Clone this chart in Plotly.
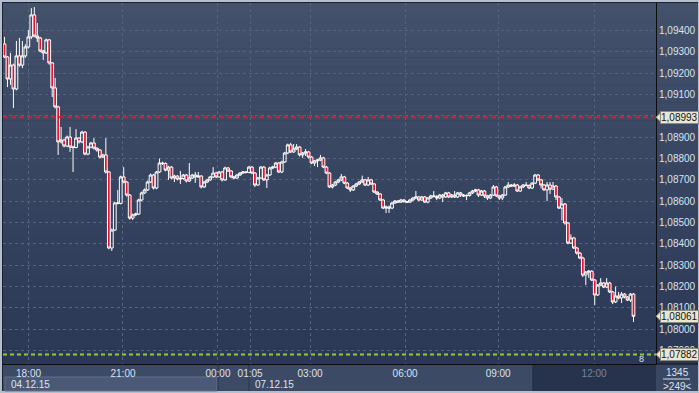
import plotly.graph_objects as go

# ---------------- data (prices in points: price = 1 + pts/100000) ----------------
first_open_pts = 9337
close_pts = [
    9276, 9173, 9238, 9126, 9281, 9238, 9281, 9323, 9370, 9473,
    9374, 9365, 9304, 9295, 9356, 9248, 9131, 9042, 8878, 8887,
    8859, 8901, 8854, 8852, 8896, 8878, 8924, 8821, 8854, 8873,
    8849, 8840, 8807, 8817, 8737, 8381, 8465, 8592, 8590, 8714,
    8690, 8629, 8521, 8536, 8540, 8606, 8639, 8653, 8690, 8723,
    8662, 8737, 8779, 8777, 8746, 8760, 8709, 8718, 8704, 8707,
    8723, 8695, 8709, 8723, 8714, 8718, 8667, 8690, 8700, 8714,
    8732, 8714, 8737, 8700, 8756, 8742, 8714, 8709, 8723, 8732,
    8737, 8735, 8760, 8732, 8676, 8709, 8760, 8700, 8723, 8756,
    8760, 8779, 8737, 8784, 8826, 8864, 8831, 8845, 8854, 8817,
    8826, 8831, 8807, 8779, 8789, 8793, 8803, 8760, 8732, 8667,
    8676, 8690, 8700, 8714, 8685, 8662, 8653, 8671, 8681, 8690,
    8700, 8676, 8700, 8681, 8643, 8634, 8606, 8568, 8573, 8568,
    8592, 8601, 8596, 8606, 8598, 8596, 8606, 8615, 8620, 8606,
    8620, 8596, 8615, 8625, 8623, 8615, 8629, 8620, 8639, 8620,
    8629, 8620, 8639, 8629, 8625, 8627, 8639, 8648, 8653, 8629,
    8648, 8625, 8615, 8629, 8667, 8625, 8615, 8629, 8667, 8676,
    8671, 8676, 8648, 8667, 8676, 8674, 8662, 8685, 8723, 8700,
    8676, 8653, 8676, 8657, 8671, 8620, 8568, 8587, 8498, 8404,
    8428, 8381, 8357, 8334, 8254, 8268, 8272, 8231, 8161, 8207,
    8217, 8198, 8217, 8175, 8128, 8156, 8147, 8165, 8151, 8137, 8165, 8061,
]
high_pts = [
    9370, 9280, 9295, 9245, 9351, 9365, 9351, 9335, 9402, 9505,
    9510, 9435, 9370, 9310, 9362, 9360, 9252, 9178, 9048, 8948,
    8893, 8908, 8948, 8860, 8938, 8900, 8930, 8928, 8860, 8878,
    8896, 8852, 8845, 8822, 8896, 8742, 8472, 8598, 8653, 8720,
    8760, 8695, 8634, 8542, 8546, 8612, 8645, 8660, 8697, 8730,
    8728, 8742, 8800, 8785, 8782, 8766, 8765, 8724, 8722, 8742,
    8728, 8728, 8779, 8728, 8737, 8737, 8722, 8695, 8705, 8719,
    8760, 8738, 8742, 8742, 8762, 8760, 8746, 8719, 8728, 8737,
    8742, 8741, 8766, 8765, 8737, 8714, 8765, 8765, 8728, 8762,
    8766, 8784, 8784, 8790, 8831, 8870, 8873, 8868, 8868, 8859,
    8831, 8845, 8836, 8812, 8794, 8798, 8817, 8808, 8765, 8737,
    8681, 8695, 8705, 8728, 8719, 8690, 8667, 8676, 8686, 8695,
    8720, 8705, 8714, 8705, 8686, 8648, 8639, 8611, 8580, 8580,
    8598, 8606, 8606, 8611, 8610, 8602, 8611, 8620, 8648, 8625,
    8625, 8625, 8620, 8630, 8648, 8628, 8634, 8634, 8644, 8644,
    8634, 8648, 8644, 8644, 8634, 8632, 8644, 8653, 8658, 8658,
    8653, 8653, 8630, 8634, 8676, 8672, 8630, 8634, 8672, 8690,
    8681, 8685, 8681, 8672, 8681, 8690, 8679, 8690, 8728, 8728,
    8705, 8681, 8690, 8690, 8690, 8676, 8625, 8615, 8592, 8503,
    8445, 8433, 8386, 8362, 8340, 8273, 8278, 8277, 8236, 8212,
    8240, 8222, 8240, 8222, 8180, 8200, 8175, 8175, 8170, 8156, 8170, 8170,
]
low_pts = [
    9271, 9135, 9145, 9037, 9120, 9230, 9224, 9272, 9315, 9360,
    9368, 9346, 9298, 9262, 9290, 9240, 9088, 9035, 8817, 8870,
    8852, 8853, 8831, 8737, 8848, 8870, 8872, 8815, 8815, 8848,
    8842, 8832, 8800, 8802, 8730, 8375, 8367, 8460, 8585, 8585,
    8684, 8622, 8514, 8512, 8530, 8535, 8600, 8634, 8648, 8685,
    8655, 8656, 8732, 8770, 8740, 8700, 8703, 8690, 8698, 8681,
    8700, 8688, 8690, 8704, 8686, 8710, 8660, 8662, 8685, 8695,
    8708, 8708, 8709, 8693, 8695, 8737, 8708, 8703, 8704, 8718,
    8728, 8730, 8731, 8727, 8667, 8672, 8704, 8695, 8662, 8718,
    8750, 8755, 8732, 8732, 8779, 8821, 8826, 8826, 8840, 8810,
    8803, 8812, 8800, 8774, 8765, 8760, 8788, 8755, 8727, 8662,
    8660, 8671, 8685, 8695, 8680, 8657, 8643, 8648, 8667, 8676,
    8685, 8671, 8671, 8676, 8638, 8629, 8601, 8563, 8545, 8545,
    8563, 8587, 8592, 8592, 8594, 8592, 8592, 8600, 8610, 8600,
    8601, 8592, 8590, 8610, 8618, 8606, 8610, 8596, 8615, 8615,
    8615, 8615, 8615, 8620, 8620, 8606, 8622, 8634, 8643, 8620,
    8625, 8615, 8606, 8610, 8625, 8620, 8606, 8606, 8625, 8662,
    8667, 8667, 8643, 8643, 8662, 8670, 8657, 8657, 8680, 8695,
    8660, 8648, 8601, 8634, 8652, 8606, 8563, 8510, 8490, 8398,
    8400, 8376, 8350, 8328, 8245, 8207, 8240, 8226, 8114, 8156,
    8202, 8193, 8193, 8170, 8118, 8123, 8140, 8123, 8145, 8132, 8128, 8034,
]
assert len(close_pts) == len(high_pts) == len(low_pts)

time_tick_pos = [8.05, 39.75, 71.6, 82.4, 102.5, 134.4, 165.6, 197.8]
time_tick_text = ["18:00", "21:00", "00:00", "01:05", "03:00", "06:00", "09:00", "12:00"]
price_ticks = [1.079, 1.080, 1.081, 1.082, 1.083, 1.084, 1.085, 1.086,
               1.087, 1.088, 1.089, 1.090, 1.091, 1.092, 1.093, 1.094]
date_labels = ["04.12.15", "07.12.15"]
bid_level = 1.08993
last_level = 1.08061
green_level = 1.07882
corner_top, corner_bottom = "1345", ">249<"
green_count = "8"

# ---------------- derived series ----------------
to_price = lambda p: 1 + p / 100000.0
opens = [to_price(v) for v in [first_open_pts] + close_pts[:-1]]
closes = [to_price(v) for v in close_pts]
highs = [to_price(v) for v in high_pts]
lows = [to_price(v) for v in low_pts]
xs = list(range(len(closes)))

# ---------------- geometry helpers ----------------
W, H = 699, 393
L, R, T, B = 3, 43, 3, 29
PW, PH = W - L - R, H - T - B
fx = lambda px: (px - L) / PW
fy = lambda py: (H - B - py) / PH
YMIN, YMAX = 1.078374, 1.095289
ppx = (YMAX - YMIN) / PH  # price per pixel

FONT = "Liberation Sans"
LIGHT = "#dbe3ee"

fig = go.Figure()
fig.add_trace(go.Candlestick(
    x=xs, open=opens, high=highs, low=lows, close=closes,
    increasing=dict(line=dict(color="#ffffff", width=1), fillcolor="rgba(0,0,0,0)"),
    decreasing=dict(line=dict(color="#ffffff", width=1), fillcolor="#e8102c"),
    whiskerwidth=0, hoverinfo="skip", showlegend=False,
))

shapes = []
shapes.append(dict(type="rect", xref="paper", yref="paper", x0=fx(2), x1=fx(698), y0=fy(391), y1=fy(2),
                   fillcolor="#1b2232", line=dict(width=0), layer="below"))
n = 40
top_c, bot_c = (67, 81, 107), (42, 56, 86)
for k in range(n):
    t = (k + 0.5) / n
    c = tuple(round(top_c[i] + (bot_c[i] - top_c[i]) * t) for i in range(3))
    py0 = 3 + k * (364 - 3) / n
    py1 = 3 + (k + 1) * (364 - 3) / n
    shapes.append(dict(type="rect", xref="paper", yref="paper", x0=fx(3), x1=fx(698),
                       y0=fy(py1 + 0.5), y1=fy(py0), fillcolor="rgb(%d,%d,%d)" % c,
                       line=dict(width=0), layer="below"))
shapes += [
    dict(type="rect", xref="paper", yref="paper", x0=fx(3), x1=fx(533), y0=fy(391), y1=fy(364),
         fillcolor="#3c4a66", line=dict(width=0), layer="below"),
    dict(type="rect", xref="paper", yref="paper", x0=fx(533), x1=fx(656), y0=fy(391), y1=fy(364),
         fillcolor="#27334c", line=dict(width=0), layer="below"),
    dict(type="rect", xref="paper", yref="paper", x0=fx(656), x1=fx(698), y0=fy(391), y1=fy(364),
         fillcolor="#3a4763", line=dict(width=0), layer="below"),
    dict(type="rect", xref="paper", yref="paper", x0=fx(5), x1=fx(217), y0=fy(391), y1=fy(377),
         fillcolor="#4b5976", line=dict(color="#63708b", width=1), layer="below"),
    dict(type="line", xref="paper", yref="paper", x0=fx(218), x1=fx(218), y0=fy(391), y1=fy(364),
         line=dict(color="#2a3550", width=1), layer="below"),
    dict(type="line", xref="paper", yref="paper", x0=fx(249), x1=fx(249), y0=fy(391), y1=fy(364),
         line=dict(color="#2a3550", width=1), layer="below"),
    dict(type="line", xref="paper", yref="paper", x0=fx(533), x1=fx(533), y0=fy(391), y1=fy(364),
         line=dict(color="#1f2940", width=1), layer="below"),
    dict(type="line", xref="paper", yref="paper", x0=fx(656), x1=fx(698), y0=fy(364), y1=fy(364),
         line=dict(color="#111111", width=1), layer="above"),
    dict(type="line", xref="paper", yref="paper", x0=fx(663), x1=fx(690), y0=fy(379), y1=fy(379),
         line=dict(color=LIGHT, width=1), layer="above"),
]
shapes.append(dict(type="line", xref="paper", yref="y", x0=0, x1=fx(653), y0=bid_level, y1=bid_level,
                   line=dict(color="#d21e2e", width=2, dash="5px,3px"), layer="above"))
shapes.append(dict(type="line", xref="paper", yref="y", x0=0, x1=1, y0=green_level, y1=green_level,
                   line=dict(color="#96c83c", width=2, dash="4px,3px"), layer="above"))
for lvl in (bid_level, last_level, green_level):
    shapes.append(dict(type="path", xref="paper", yref="y",
                       path="M %f,%f L %f,%f L %f,%f Z" % (fx(656), lvl, fx(661), lvl + 5 * ppx, fx(661), lvl - 5 * ppx),
                       fillcolor="#e9e7d3", line=dict(color="#8d8c7c", width=1), layer="above"))

annotations = []
for lvl in (bid_level, last_level, green_level):
    annotations.append(dict(xref="paper", yref="y", x=fx(660), y=lvl, xanchor="left", yanchor="middle",
                            text=("%.5f" % lvl).replace(".", ","), showarrow=False,
                            font=dict(family=FONT, size=10, color="#141414"),
                            bgcolor="#e9e7d3", bordercolor="#8d8c7c", borderwidth=1, borderpad=0))
annotations += [
    dict(xref="paper", yref="paper", x=fx(9), y=fy(384.5), xanchor="left", yanchor="middle",
         text=date_labels[0], showarrow=False, font=dict(family=FONT, size=10, color=LIGHT)),
    dict(xref="paper", yref="paper", x=fx(253), y=fy(384.5), xanchor="left", yanchor="middle",
         text=date_labels[1], showarrow=False, font=dict(family=FONT, size=10, color=LIGHT)),
    dict(xref="paper", yref="paper", x=fx(677), y=fy(372), xanchor="center", yanchor="middle",
         text=corner_top, showarrow=False, font=dict(family=FONT, size=10, color=LIGHT)),
    dict(xref="paper", yref="paper", x=fx(677), y=fy(386), xanchor="center", yanchor="middle",
         text=corner_bottom, showarrow=False, font=dict(family=FONT, size=10, color=LIGHT)),
    dict(xref="paper", yref="paper", x=fx(641), y=fy(359), xanchor="center", yanchor="middle",
         text=green_count, showarrow=False, font=dict(family=FONT, size=9, color="#d8e6f8")),
]

tick_text = [t if t != "12:00" else "<span style='color:#76839c'>12:00</span>" for t in time_tick_text]

fig.update_layout(
    width=W, height=H, autosize=False,
    margin=dict(l=L, r=R, t=T, b=B, pad=0),
    paper_bgcolor="#b3bfcd", plot_bgcolor="rgba(0,0,0,0)",
    separators=",.",
    boxgap=0.08, boxgroupgap=0,
    shapes=shapes, annotations=annotations,
    font=dict(family=FONT, size=10, color=LIGHT),
    xaxis=dict(range=[-0.5, 218.55], rangeslider=dict(visible=False), tickmode="array",
               tickvals=time_tick_pos, ticktext=tick_text, showgrid=True, gridcolor="#56637d",
               griddash="3px,3px", gridwidth=1, zeroline=False, showline=True, linecolor="#0d0d0d",
               linewidth=1, ticks="", tickfont=dict(family=FONT, size=10, color=LIGHT), fixedrange=True),
    yaxis=dict(side="right", range=[YMIN, YMAX], tickmode="array", tickvals=price_ticks,
               tickformat=".5f", showgrid=True, gridcolor="#56637d", griddash="3px,3px", gridwidth=1,
               zeroline=False, showline=True, linecolor="#0d0d0d", linewidth=1, ticks="",
               tickfont=dict(family=FONT, size=10, color=LIGHT), fixedrange=True),
    hovermode=False,
)

fig.write_html("out.html", config={"displayModeBar": False, "staticPlot": True})
